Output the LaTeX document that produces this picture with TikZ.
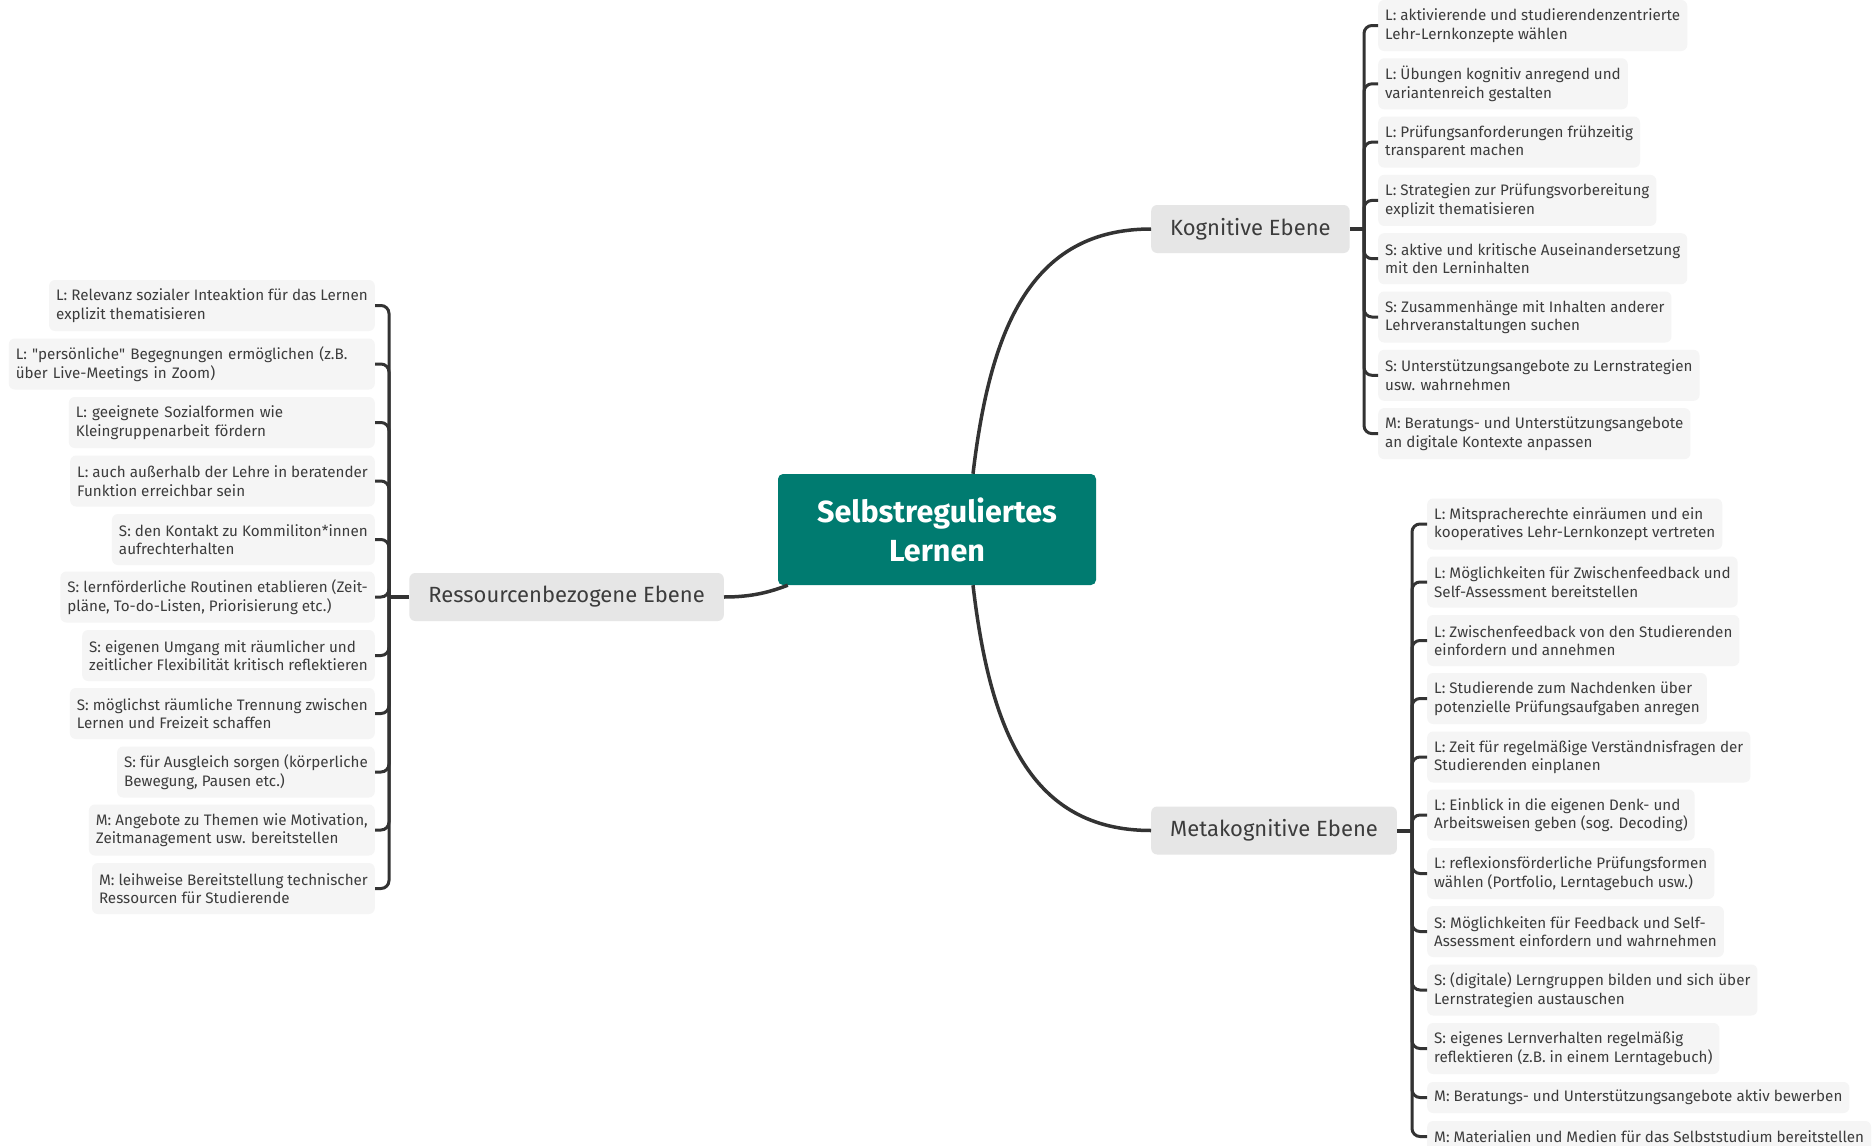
\documentclass[tikz,border=0pt]{standalone}
\usepackage{fontspec}
\setmainfont{Fira Sans}
\usetikzlibrary{calc}
\definecolor{teal1}{HTML}{007B70}
\definecolor{leafbg}{HTML}{F5F5F5}
\definecolor{branchbg}{HTML}{E6E6E6}
\definecolor{txt}{HTML}{3C3C3C}
\definecolor{ln}{HTML}{333333}
\begin{document}
\begin{tikzpicture}[x=1pt,y=-1pt,
 leaf/.style={fill=leafbg, rounded corners=6pt, text=txt, align=left, font=\fontsize{15.2}{18.6}\selectfont, inner xsep=7pt, inner ysep=0pt, minimum height=51pt},
 leafone/.style={leaf, minimum height=31pt},
 branch/.style={fill=branchbg, rounded corners=6pt, text=txt, font=\fontsize{22}{26}\selectfont, inner xsep=19pt, inner ysep=0pt, minimum height=48pt},
 root/.style={fill=teal1, rounded corners=5pt, text=white, font=\bfseries\fontsize{30.5}{39}\selectfont, align=center, minimum width=318pt, minimum height=111pt, inner sep=0pt},
 curve/.style={draw=ln, line width=3.5pt},
 brk/.style={draw=ln, line width=3pt, rounded corners=8pt},
 stub/.style={draw=ln, line width=4pt}
]
\fill[white] (0,0) rectangle (1872,1146);
\useasboundingbox (0,0) rectangle (1872,1146);

% root and branches
\node[root] (root) at (937,529.5) {Selbstreguliertes\\Lernen};
\node[branch, anchor=west] (kog) at (1151,229) {Kognitive Ebene};
\node[branch, anchor=west] (meta) at (1151,830.5) {Metakognitive Ebene};
\node[branch, anchor=east] (res) at (724,597) {Ressourcenbezogene Ebene};

\draw[curve] ([xshift=36pt]root.north) .. controls (990,330) and (1030,229) .. (kog.west);
\draw[curve] ([xshift=36pt]root.south) .. controls (990,730) and (1030,830.5) .. (meta.west);
\draw[curve] (res.east) .. controls (752,597) and (770,592) .. ([xshift=10pt]root.south west);

% junctions
\coordinate (jk) at (1364,229);
\coordinate (jm) at (1412,830.5);
\coordinate (jr) at (389,597);
\draw[stub] (kog.east) -- (jk);
\draw[stub] (meta.east) -- (jm);
\draw[stub] (res.west) -- (jr);

% Kognitive leaves
\node[leaf, anchor=west] (k1) at (1378,25.5) {L: aktivierende und studierendenzentrierte\\Lehr-Lernkonzepte wählen};
\node[leaf, anchor=west] (k2) at (1378,83.8) {L: Übungen kognitiv anregend und\\variantenreich gestalten};
\node[leaf, anchor=west] (k3) at (1378,142.1) {L: Prüfungsanforderungen frühzeitig\\transparent machen};
\node[leaf, anchor=west] (k4) at (1378,200.4) {L: Strategien zur Prüfungsvorbereitung\\explizit thematisieren};
\node[leaf, anchor=west] (k5) at (1378,258.7) {S: aktive und kritische Auseinandersetzung\\mit den Lerninhalten};
\node[leaf, anchor=west] (k6) at (1378,317) {S: Zusammenhänge mit Inhalten anderer\\Lehrveranstaltungen suchen};
\node[leaf, anchor=west] (k7) at (1378,375.3) {S: Unterstützungsangebote zu Lernstrategien\\usw. wahrnehmen};
\node[leaf, anchor=west] (k8) at (1378,433.6) {M: Beratungs- und Unterstützungsangebote\\an digitale Kontexte anpassen};
\foreach \n in {k1,k2,k3,k4,k5,k6,k7,k8} \draw[brk] (jk) |- (\n.west);

% Metakognitive leaves
\node[leaf, anchor=west] (m1) at (1427,524) {L: Mitspracherechte einräumen und ein\\kooperatives Lehr-Lernkonzept vertreten};
\node[leaf, anchor=west] (m2) at (1427,582) {L: Möglichkeiten für Zwischenfeedback und\\Self-Assessment bereitstellen};
\node[leaf, anchor=west] (m3) at (1427,640.5) {L: Zwischenfeedback von den Studierenden\\einfordern und annehmen};
\node[leaf, anchor=west] (m4) at (1427,698.5) {L: Studierende zum Nachdenken über\\potenzielle Prüfungsaufgaben anregen};
\node[leaf, anchor=west] (m5) at (1427,757) {L: Zeit für regelmäßige Verständnisfragen der\\Studierenden einplanen};
\node[leaf, anchor=west] (m6) at (1427,815) {L: Einblick in die eigenen Denk- und\\Arbeitsweisen geben (sog. Decoding)};
\node[leaf, anchor=west] (m7) at (1427,873.5) {L: reflexionsförderliche Prüfungsformen\\wählen (Portfolio, Lerntagebuch usw.)};
\node[leaf, anchor=west] (m8) at (1427,931.5) {S: Möglichkeiten für Feedback und Self-\\Assessment einfordern und wahrnehmen};
\node[leaf, anchor=west] (m9) at (1427,990) {S: (digitale) Lerngruppen bilden und sich über\\Lernstrategien austauschen};
\node[leaf, anchor=west] (m10) at (1427,1048.5) {S: eigenes Lernverhalten regelmäßig\\reflektieren (z.B. in einem Lerntagebuch)};
\node[leafone, anchor=west] (m11) at (1427,1097.5) {M: Beratungs- und Unterstützungsangebote aktiv bewerben};
\node[leafone, anchor=west] (m12) at (1427,1136.5) {M: Materialien und Medien für das Selbststudium bereitstellen};
\foreach \n in {m1,m2,m3,m4,m5,m6,m7,m8,m9,m10,m11,m12} \draw[brk] (jm) |- (\n.west);

% Ressourcen leaves
\node[leaf, anchor=east] (r1) at (375,305.5) {L: Relevanz sozialer Inteaktion für das Lernen\\explizit thematisieren};
\node[leaf, anchor=east, text width=352pt] (r2) at (375,364) {L: \textquotedbl persönliche\textquotedbl{} Begegnungen ermöglichen (z.B.\\über Live-Meetings in Zoom)};
\node[leaf, anchor=east, text width=292pt] (r3) at (375,422.5) {L: geeignete Sozialformen wie\\Kleingruppenarbeit fördern};
\node[leaf, anchor=east] (r4) at (375,481) {L: auch außerhalb der Lehre in beratender\\Funktion erreichbar sein};
\node[leaf, anchor=east] (r5) at (375,539.5) {S: den Kontakt zu Kommiliton*innen\\aufrechterhalten};
\node[leaf, anchor=east] (r6) at (375,597) {S: lernförderliche Routinen etablieren (Zeit-\\pläne, To-do-Listen, Priorisierung etc.)};
\node[leaf, anchor=east] (r7) at (375,655.5) {S: eigenen Umgang mit räumlicher und\\zeitlicher Flexibilität kritisch reflektieren};
\node[leaf, anchor=east] (r8) at (375,713.5) {S: möglichst räumliche Trennung zwischen\\Lernen und Freizeit schaffen};
\node[leaf, anchor=east] (r9) at (375,772) {S: für Ausgleich sorgen (körperliche\\Bewegung, Pausen etc.)};
\node[leaf, anchor=east] (r10) at (375,830) {M: Angebote zu Themen wie Motivation,\\Zeitmanagement usw. bereitstellen};
\node[leaf, anchor=east] (r11) at (375,888.5) {M: leihweise Bereitstellung technischer\\Ressourcen für Studierende};
\foreach \n in {r1,r2,r3,r4,r5,r6,r7,r8,r9,r10,r11} \draw[brk] (jr) |- (\n.east);
\end{tikzpicture}
\end{document}
